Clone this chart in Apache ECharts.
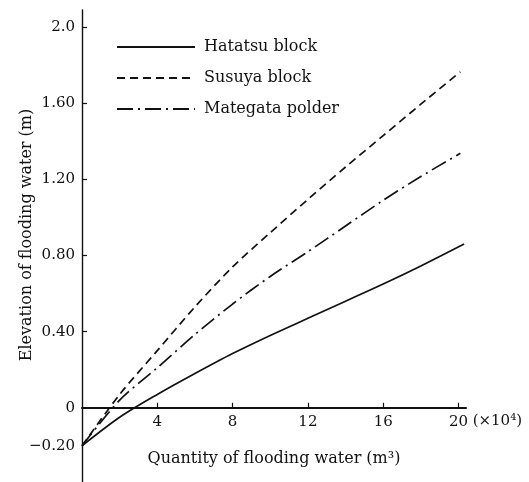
<!DOCTYPE html>
<html>
<head>
<meta charset="utf-8">
<script src="https://cdn.jsdelivr.net/npm/echarts@6/dist/echarts.min.js"></script>
<style>
html,body{margin:0;padding:0;background:#fff;}
#c{width:529px;height:482px;}
</style>
</head>
<body>
<div id="c"></div>
<script>
// Quantity of flooding water (x 10^4 m^3) vs elevation (m)
const hatatsuX = [0, 2, 4, 6, 8, 10, 12, 14, 16, 18, 20.3];
const hatatsuY = [-0.20, -0.05, 0.07, 0.18, 0.285, 0.38, 0.47, 0.56, 0.65, 0.745, 0.86];
const susuyaX = [0, 2, 4, 6, 8, 10, 12, 14, 16, 18, 20.1];
const susuyaY = [-0.20, 0.07, 0.30, 0.53, 0.74, 0.92, 1.095, 1.265, 1.43, 1.595, 1.765];
const mategataX = [0, 2, 4, 6, 8, 10, 12, 14, 16, 18, 20.1];
const mategataY = [-0.20, 0.04, 0.21, 0.385, 0.545, 0.69, 0.82, 0.955, 1.09, 1.215, 1.337];
const seriesNames = ['Hatatsu block', 'Susuya block', 'Mategata polder'];
const xTickValues = [4, 8, 12, 16, 20];
const yTickValues = [0.4, 0.8, 1.2, 1.6, 2.0];
const yLabelValues = [-0.2, 0, 0.4, 0.8, 1.2, 1.6, 2.0];
const yLabelTexts = ['\u22120.20', '0', '0.40', '0.80', '1.20', '1.60', '2.0'];

const zip = (xs, ys) => xs.map((x, i) => [x, ys[i]]);
const FONT = 'DejaVu Serif';
const INK = '#111';

const W = 529, H = 482;
const gridTop = 10, gridBottom = 0;
const yMin = -0.39, yMax = 2.09;
// place the x axis line at y = 0 (offset from the grid bottom, negative = inward)
const plotH = H - gridTop - gridBottom;
const xAxisOffset = -((0 - yMin) / (yMax - yMin)) * plotH;

const chart = echarts.init(document.getElementById('c'), null, {renderer: 'canvas'});
chart.setOption({
  animation: false,
  backgroundColor: '#fff',
  textStyle: {fontFamily: FONT, color: INK},
  title: {
    text: '(\u00d710\u2074)',
    right: 2, top: 409,
    textStyle: {fontFamily: FONT, fontSize: 15, fontWeight: 'normal', color: INK}
  },
  grid: {left: 82, right: 63, top: gridTop, bottom: gridBottom, containLabel: false, outerBoundsMode: 'none'},
  legend: {
    orient: 'vertical',
    left: 111, top: 34,
    itemWidth: 78, itemHeight: 14, itemGap: 15,
    itemStyle: {opacity: 0, borderWidth: 0},
    textStyle: {fontFamily: FONT, fontSize: 16, color: INK, padding: [0, 0, 0, 4]},
    data: seriesNames
  },
  xAxis: {
    type: 'value', min: 0, max: 20.4,
    position: 'bottom', offset: xAxisOffset,
    name: 'Quantity of flooding water (m\u00b3)',
    nameLocation: 'middle', nameGap: 43, nameMoveOverlap: false,
    nameTextStyle: {fontFamily: FONT, fontSize: 16, color: INK, verticalAlign: 'top'},
    axisLine: {onZero: false, lineStyle: {color: INK, width: 2}},
    axisTick: {inside: true, length: 5, customValues: xTickValues, lineStyle: {color: INK, width: 1.2}},
    axisLabel: {customValues: xTickValues, margin: 7, fontFamily: FONT, fontSize: 15, color: INK},
    splitLine: {show: false}
  },
  yAxis: {
    type: 'value', min: yMin, max: yMax,
    name: 'Elevation of flooding water (m)',
    nameLocation: 'middle', nameGap: 47, nameRotate: 90, nameMoveOverlap: false,
    nameTextStyle: {fontFamily: FONT, fontSize: 16, color: INK, padding: [0, 0, 0, 22]},
    axisLine: {lineStyle: {color: INK, width: 1.4}},
    axisTick: {inside: true, length: 5, customValues: yTickValues, lineStyle: {color: INK, width: 1.2}},
    axisLabel: {
      customValues: yLabelValues, margin: 7, fontFamily: FONT, fontSize: 15, color: INK,
      formatter: v => {
        const i = yLabelValues.findIndex(t => Math.abs(t - v) < 1e-6);
        return i >= 0 ? yLabelTexts[i] : '';
      }
    },
    splitLine: {show: false}
  },
  series: [
    {name: seriesNames[0], type: 'line', data: zip(hatatsuX, hatatsuY), symbol: 'none', smooth: 0.3,
     lineStyle: {color: INK, width: 1.7, type: 'solid'}, itemStyle: {color: INK}},
    {name: seriesNames[1], type: 'line', data: zip(susuyaX, susuyaY), symbol: 'none', smooth: 0.3,
     lineStyle: {color: INK, width: 1.7, type: [8, 5]}, itemStyle: {color: INK}},
    {name: seriesNames[2], type: 'line', data: zip(mategataX, mategataY), symbol: 'none', smooth: 0.3,
     lineStyle: {color: INK, width: 1.7, type: [16, 5, 2, 5]}, itemStyle: {color: INK}}
  ]
});
</script>
</body>
</html>
